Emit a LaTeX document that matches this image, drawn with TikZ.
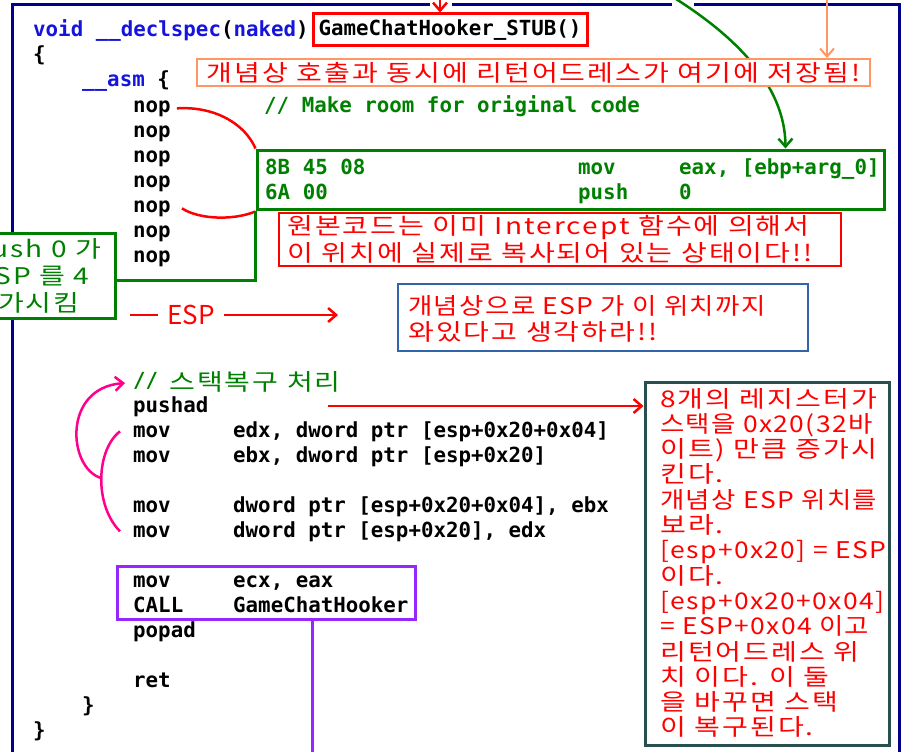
\documentclass[tikz,border=0pt]{standalone}
\usepackage{fontspec}
\usetikzlibrary{arrows.meta}

\newfontfamily\codefont{DejaVu Sans Mono}
\newfontfamily\kfont{Noto Sans CJK KR}[FakeStretch=1.22, LetterSpace=9]
\newfontfamily\kfontn{Noto Sans CJK KR}[FakeStretch=1.15, LetterSpace=6]
\newfontfamily\kplain{Noto Sans CJK KR}
\newcommand\codetxt{\codefont\bfseries\fontsize{20.8}{25}\selectfont}
\newcommand\ktxt{\kfont\fontsize{23}{25}\selectfont}
\newcommand\ktxtn{\kfontn\fontsize{23}{25}\selectfont}

\definecolor{framenavy}{RGB}{0,0,140}
\definecolor{kwblue}{RGB}{20,20,220}
\definecolor{cgreen}{RGB}{0,128,0}
\definecolor{hred}{RGB}{255,0,0}
\definecolor{horange}{RGB}{255,150,100}
\definecolor{noteblue}{RGB}{50,100,170}
\definecolor{noteslate}{RGB}{40,80,80}
\definecolor{hpink}{RGB}{255,0,140}
\definecolor{hviolet}{RGB}{150,40,255}

\begin{document}
\begin{tikzpicture}[x=1pt,y=-1pt,
  code/.style={anchor=base west, inner sep=0pt, font=\codetxt},
  kline/.style={anchor=base west, inner sep=0pt, font=\ktxt, text=hred},
  frame/.style={draw=framenavy, line width=3pt},
  barb/.style={-{Straight Barb[length=8pt,width=14pt]}},
  box/.style={inner sep=0pt, fill=white}]
\useasboundingbox (0,0) rectangle (908,752);
\clip (0,0) rectangle (908,752);

% outer frame (top edge interrupted where arrows enter)
\draw[frame] (12,760) -- (12,5) -- (430,5);
\draw[frame] (452,5) -- (672,5);
\draw[frame] (694,5) -- (899,5) -- (899,760);

% function header
\node[code] (sig) at (33,37) {\textcolor{kwblue}{void \_\_declspec}(\textcolor{kwblue}{naked})};
\node[box, draw=hred, line width=3pt, minimum width=274pt, minimum height=32pt, font=\codetxt] (stub) at (450,30) {GameChatHooker\_STUB()};
\coordinate (redtop) at (440,-6);
\draw[hred, line width=2.5pt, barb] (redtop) -- (redtop |- stub.north);

\node[code] (ob1) at (33,62) {\{};
\node[code] (asm) at (82,87) {\textcolor{kwblue}{\_\_asm} \{};
\foreach \k in {1,...,7} \node[code] (nop\k) at (133,{87+25*\k}) {nop};
\node[code, text=cgreen] (cmt1) at (264,112) {// Make room for original code};

% copied original instructions
\node[box, draw=cgreen, line width=3pt, minimum width=627pt, minimum height=59pt] (orig) at (570.5,179.5) {};
\node[code, text=cgreen] (hx1) at (265,174) {8B 45 08};
\node[code, text=cgreen] (hx2) at (265,199) {6A 00};
\node[code, text=cgreen] (in1) at (578,174) {mov};
\node[code, text=cgreen] (in2) at (578,199) {push};
\node[code, text=cgreen] (op0a) at (679,174) {eax, [ebp+arg\_0]};
\node[code, text=cgreen] (op0b) at (679,199) {0};

\coordinate (grtop) at (668,-6);
\draw[cgreen, line width=2.5pt, barb] (grtop) .. controls (735,35) and (785,85) .. ([xshift=530pt]orig.north west);

% return address note
\node[box, draw=horange, line width=2pt, minimum width=673pt, minimum height=27pt, font=\ktxt, text=hred] (note0) at (533.5,72.5) {개념상 호출과 동시에 리턴어드레스가 여기에 저장됨!};
\coordinate (ortop) at (827,-6);
\draw[horange, line width=2pt, barb] (ortop) -- (ortop |- note0.north);

% brackets around the nop block
\draw[hred, line width=2.5pt] ([xshift=6pt]nop1.east) .. controls (215,106) and (245,124) .. (orig.north west);
\draw[hred, line width=2.5pt] ([xshift=11pt]nop5.east) .. controls (198,219) and (232,221) .. ([yshift=-1pt]orig.south west);

\node[box, draw=hred, line width=1.8pt, minimum width=562pt, minimum height=53pt] (note1) at (560,239.5) {};
\node[kline] (n1a) at (287,234) {원본코드는 이미 Intercept 함수에 의해서};
\node[kline] (n1b) at (287,261) {이 위치에 실제로 복사되어 있는 상태이다!!};

% push 0 note on the left
\node[box, draw=cgreen, line width=3pt, minimum width=155pt, minimum height=85pt] (lbox) at (37.5,275.5) {};
\node[kline, text=cgreen] (lb1) at (-28,257) {push 0 가};
\node[kline, text=cgreen] (lb2) at (-24,284) {ESP 를 4};
\node[kline, text=cgreen] (lb3) at (-30,311) {증가시킴};
\draw[cgreen, line width=3pt] (orig.south west) |- ([yshift=-4.5pt]lbox.east);

% ESP marker
\node[font=\kplain\fontsize{26}{26}\selectfont, text=hred, inner xsep=9pt, inner ysep=0pt] (esp) at (191,315) {ESP};
\coordinate (espL) at (130,315);
\coordinate (espR) at (338,315);
\draw[hred, line width=2.5pt] (espL) -- (esp.west);
\draw[hred, line width=2.5pt, barb] (esp.east) -- (espR);

\node[box, draw=noteblue, line width=2pt, minimum width=410pt, minimum height=67pt] (note2) at (603,317.5) {};
\node[kline, font=\ktxtn] (n2a) at (408,314) {개념상으로 ESP 가 이 위치까지};
\node[kline] (n2b) at (408,340) {와있다고 생각하라!!};

% stack restore block
\node[code, text=cgreen] (cmt2) at (133,387) {//};
\node[kline, text=cgreen] (cmt2k) at (169,390) {스택복구 처리};
\node[code] (pshd) at (133,412) {pushad};
\node[code] (mv1) at (133,437) {mov};
\node[code] (op1) at (233,437) {edx, dword ptr [esp+0x20+0x04]};
\node[code] (mv2) at (133,462) {mov};
\node[code] (op2) at (233,462) {ebx, dword ptr [esp+0x20]};
\node[code] (mv3) at (133,512) {mov};
\node[code] (op3) at (233,512) {dword ptr [esp+0x20+0x04], ebx};
\node[code] (mv4) at (133,537) {mov};
\node[code] (op4) at (233,537) {dword ptr [esp+0x20], edx};
\node[code] (mv5) at (133,587) {mov};
\node[code] (op5) at (233,587) {ecx, eax};
\node[code] (mv6) at (133,612) {CALL};
\node[code] (op6) at (233,612) {GameChatHooker};
\node[code] (ppd) at (133,637) {popad};
\node[code] (rt) at (133,687) {ret};
\node[code] (cb1) at (82,712) {\}};
\node[code] (cb2) at (33,737) {\}};

% call box
\node[draw=hviolet, line width=3pt, minimum width=298pt, minimum height=53pt, inner sep=0pt] (callbox) at (266,592.5) {};
\coordinate (callend) at (312,760);
\draw[hviolet, line width=3pt] (callbox.south -| callend) -- (callend);

% swap arcs
\coordinate (mj) at (101,478);
\draw[hpink, line width=2.5pt] ([xshift=-13pt]mv1.west) .. controls (96,450) and (94,505) .. ([xshift=-13pt]mv4.west);
\draw[hpink, line width=2.5pt, barb] (mj) .. controls (68,468) and (62,388) .. (125,383);

% explanation on the right
\node[draw=noteslate, line width=3pt, minimum width=244pt, minimum height=363pt, inner sep=0pt] (note3box) at (767,563.5) {};
\foreach \t [count=\i] in {{8개의 레지스터가},{\ktxtn 스택을 0x20(32바},{이트) 만큼 증가시},{킨다.},{\ktxtn 개념상 ESP 위치를},{보라.},{\ktxtn [esp+0x20] = ESP},{이다.},{\ktxtn [esp+0x20+0x04]},{\ktxtn = ESP+0x04 이고},{리턴어드레스 위},{치 이다. 이 둘},{을 바꾸면 스택},{이 복구된다.}}
  \node[kline] (rn\i) at (660,{407+25.3*(\i-1)}) {\t};

\coordinate (pa) at (328,406);
\draw[hred, line width=2.5pt, barb] (pa) -- (pa -| note3box.west);
\end{tikzpicture}
\end{document}
